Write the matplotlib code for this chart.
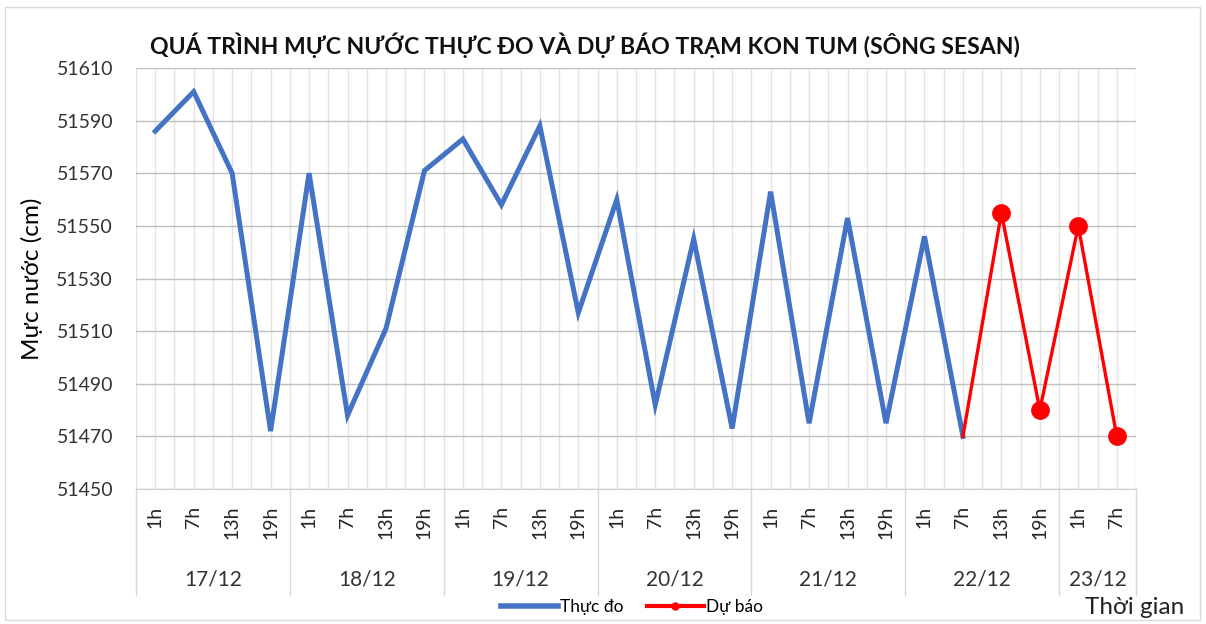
import matplotlib
matplotlib.use("Agg")
import matplotlib.pyplot as plt
from matplotlib.lines import Line2D
from matplotlib.patches import Rectangle

# ---- data ----
dates = ["17/12", "18/12", "19/12", "20/12", "21/12", "22/12", "23/12"]
hours_per_date = [4, 4, 4, 4, 4, 4, 2]
hour_labels = ["1h", "7h", "13h", "19h"] * 6 + ["1h", "7h"]
observed = [51586, 51601, 51570, 51472,
            51570, 51478, 51511, 51571,
            51583, 51558, 51588, 51517,
            51560, 51482, 51545, 51473,
            51563, 51475, 51553, 51475,
            51546, 51470]
forecast_start = 21
forecast = [51470, 51555, 51480, 51550, 51470]
title = "QUÁ TRÌNH MỰC NƯỚC THỰC ĐO VÀ DỰ BÁO TRẠM KON TUM (SÔNG SESAN)"
ylabel = "Mực nước (cm)"
xlabel = "Thời gian"
ymin, ymax, ystep = 51450, 51610, 20

W, H = 1206, 624
fig = plt.figure(figsize=(W / 100, H / 100), dpi=100)
plt.rcParams['font.family'] = ['Lato', 'DejaVu Sans']

# plot area in pixels
L, R, T, B = 136, 1136, 68, 489
ax = fig.add_axes([L / W, 1 - B / H, (R - L) / W, (B - T) / H])

n = len(hour_labels)
xs_obs = list(range(len(observed)))
xs_fc = list(range(forecast_start, forecast_start + len(forecast)))

ax.plot(xs_obs, observed, color="#4472C4", lw=3.6, solid_joinstyle="miter", zorder=3)
ax.plot(xs_fc, forecast, color="#FF0000", lw=2.4, zorder=4)
ax.plot(xs_fc[1:], forecast[1:], ls="none", marker="o", ms=12.5, color="#FF0000", zorder=5)

ax.set_xlim(-0.5, n - 0.5)
ax.set_ylim(ymin, ymax)
ax.set_yticks(list(range(ymin, ymax + 1, ystep)))
ax.set_xticks(range(n))
ax.set_xticklabels(hour_labels, rotation=90, fontsize=14, va="top", color="#262626")
ax.tick_params(axis="x", length=0, pad=12)
ax.tick_params(axis="y", length=0, pad=16.5, labelsize=14)
for lab in ax.get_yticklabels():
    lab.set_color("#333333")

# grids
ax.set_xticks([i - 0.5 for i in range(n + 1)], minor=True)
ax.tick_params(axis="x", which="minor", length=0)
ax.grid(axis="y", which="major", color="#BFBFBF", lw=1.0, zorder=0)
ax.grid(axis="x", which="major", color="#E3E3E3", lw=1.0, zorder=0)
ax.grid(axis="x", which="minor", color="#E3E3E3", lw=1.0, zorder=0)
for s in ["left", "right", "top"]:
    ax.spines[s].set_visible(False)
ax.spines["bottom"].set_color("#D0D0D0")

# date labels and group separators
trans = ax.get_xaxis_transform()
hpx = B - T
start = 0
bounds = [-0.5]
for d, cnt in zip(dates, hours_per_date):
    center = start + (cnt - 1) / 2
    ax.text(center, -(579 - B) / hpx, d, transform=trans, ha="center", va="center",
            fontsize=15, color="#333333")
    start += cnt
    bounds.append(start - 0.5)
for b in bounds:
    ax.add_line(Line2D([b, b], [0, -(595 - B) / hpx], transform=trans, color="#D9D9D9",
                       lw=1.0, clip_on=False))

ax.set_ylabel(ylabel, fontsize=17.5)
ax.yaxis.set_label_coords(-(L - 43) / (R - L), 0.5)

fig.text(150 / W, 1 - 45 / H, title, fontsize=16.6, fontweight="bold", ha="left",
         va="center", color="#111111")
fig.text(1135 / W, 1 - 608 / H, xlabel, fontsize=17.5, ha="center", va="center", color="#222222")

# legend
leg_handles = [Line2D([], [], color="#4472C4", lw=4.0),
               Line2D([], [], color="#FF0000", lw=3.0, marker="o", ms=5)]
fig.legend(leg_handles, ["Thực đo", "Dự báo"], loc="center", bbox_to_anchor=(632 / W, 1 - 607 / H),
           ncol=2, frameon=False, fontsize=12.5, handlelength=3.3, handletextpad=0.15,
           columnspacing=1.3, borderpad=0, borderaxespad=0)

# outer border
fig.patches.append(Rectangle((5 / W, 4 / H), 1195 / W, 613 / H, transform=fig.transFigure,
                             fill=False, edgecolor="#D9D9D9", lw=1.0))

fig.savefig("out.png", dpi=100)
